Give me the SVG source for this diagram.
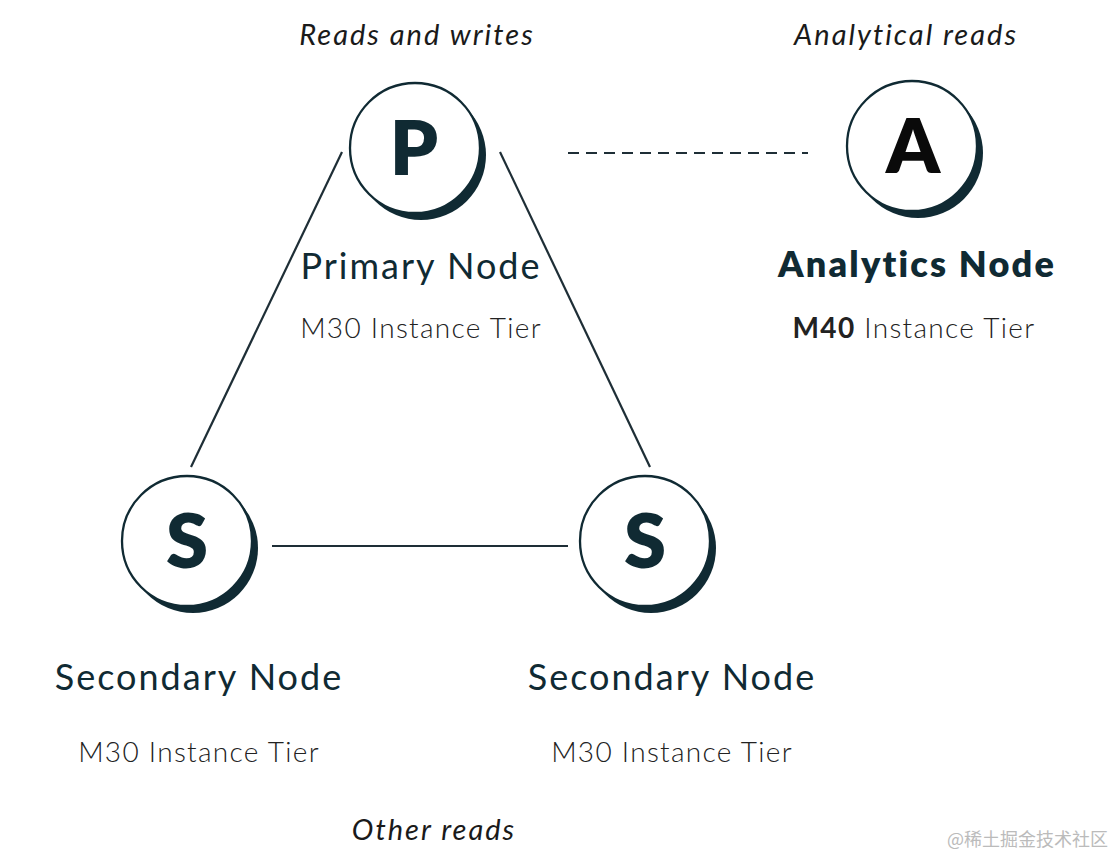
<svg xmlns="http://www.w3.org/2000/svg" width="1114" height="856" viewBox="0 0 1114 856">
<defs>
<style>
text{font-family:"Lato","Open Sans","Liberation Sans",sans-serif;fill:#102a33}
.it{font-style:italic;font-size:29px;letter-spacing:2px;fill:#1a1a1a}
.name{font-size:36px;font-weight:400;letter-spacing:2px}
.tier{font-size:28px;font-weight:300;letter-spacing:1.3px;fill:#222}
.letter{font-size:76px;font-weight:800;text-anchor:middle}
.ring{fill:#fff;stroke:#102a33;stroke-width:2.3}
.shadow{fill:#102a33}
.conn{stroke:#1e2e36;stroke-width:2.2;fill:none}
</style>
<g id="nodeshape">
<circle class="shadow" cx="6" cy="7" r="65"/>
<circle class="ring" cx="0" cy="0" r="65"/>
</g>
</defs>
<rect width="1114" height="856" fill="#fff"/>
<g id="connectors">
<line class="conn" x1="342" y1="152" x2="191" y2="467"/>
<line class="conn" x1="500" y1="152" x2="650" y2="467"/>
<line class="conn" x1="272" y1="546" x2="568" y2="546"/>
<line class="conn" x1="568" y1="153" x2="808" y2="153" stroke-dasharray="11 7"/>
</g>
<g id="primary">
<use href="#nodeshape" x="415" y="148"/>
<text class="letter" x="414" y="175">P</text>
<text class="it" x="417" y="45" text-anchor="middle">Reads and writes</text>
<text class="name" x="421" y="279" text-anchor="middle">Primary Node</text>
<text class="tier" x="421" y="338" text-anchor="middle">M30 Instance Tier</text>
</g>
<g id="analytics">
<use href="#nodeshape" x="912" y="146"/>
<text class="letter" x="913" y="173" style="fill:#0a0a0a">A</text>
<text class="it" x="906" y="45" text-anchor="middle">Analytical reads</text>
<text class="name" x="917" y="277" text-anchor="middle" style="font-weight:800;letter-spacing:2.2px">Analytics Node</text>
<text class="tier" x="914" y="338" text-anchor="middle"><tspan style="font-weight:700">M40</tspan> Instance Tier</text>
</g>
<g id="secondary1">
<use href="#nodeshape" x="187" y="541"/>
<text class="letter" x="187" y="568">S</text>
<text class="name" x="199" y="690" text-anchor="middle">Secondary Node</text>
<text class="tier" x="199" y="762" text-anchor="middle">M30 Instance Tier</text>
</g>
<g id="secondary2">
<use href="#nodeshape" x="645" y="541"/>
<text class="letter" x="645" y="568">S</text>
<text class="name" x="672" y="690" text-anchor="middle">Secondary Node</text>
<text class="tier" x="672" y="762" text-anchor="middle">M30 Instance Tier</text>
</g>
<text class="it" x="434" y="840" text-anchor="middle">Other reads</text>
<text x="1108" y="846" text-anchor="end" style="font-family:'Noto Sans CJK SC',sans-serif;font-size:18px;fill:#bbb">@稀土掘金技术社区</text>
</svg>
